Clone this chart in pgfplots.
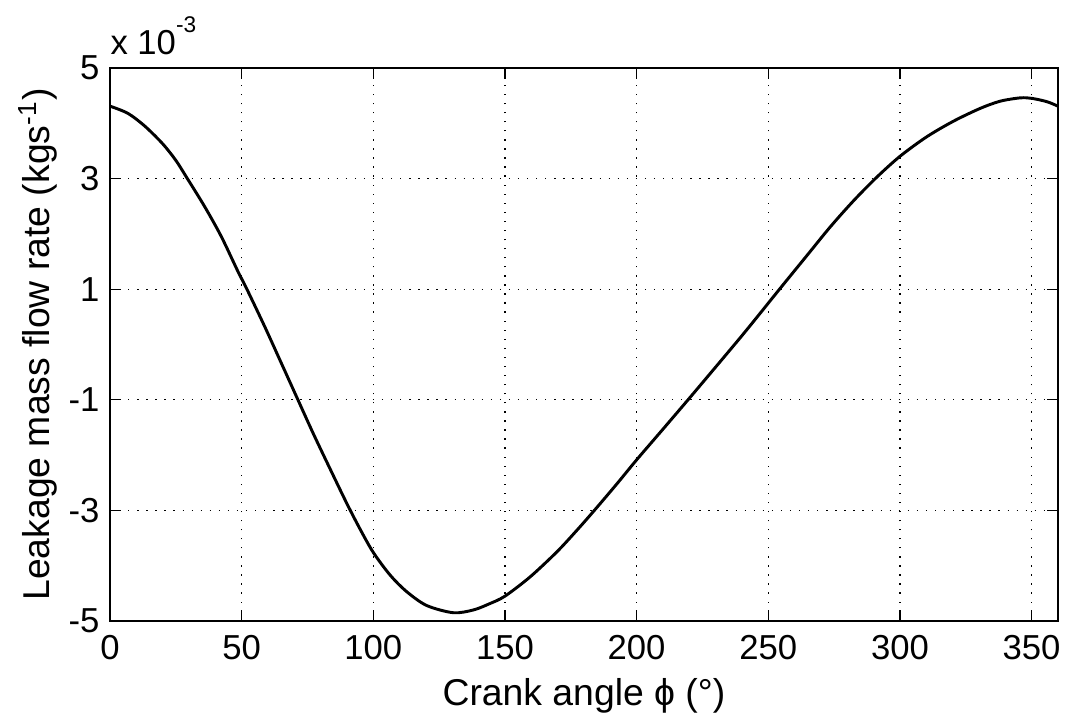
\documentclass[border=0pt]{standalone}
\usepackage{fontspec}
\setmainfont{Liberation Sans}
\usepackage{pgfplots}
\pgfplotsset{compat=1.18}
\begin{document}
\begin{tikzpicture}
\path[use as bounding box] (-41.25pt,-35.6pt) rectangle (358.9pt,232.9pt);
\begin{axis}[
  at={(0,0)}, anchor=south west,
  scale only axis, width=355.5pt, height=207.4pt,
  xmin=0, xmax=360, ymin=-5, ymax=5,
  clip=false,
  xtick={0,50,100,150,200,250,300,350},
  ytick={-5,-3,-1,1,3,5},
  xticklabels={0,50,100,150,200,250,300,350},
  yticklabels={-5,-3,-1,1,3,5},
  tick align=inside,
  major tick length=4pt,
  tick style={black, line width=0.5pt},
  grid=major,
  major grid style={black, line width=0.5pt, dash pattern=on 0.5pt off 2.9pt},
  axis line style={black, line width=0.6pt},
  ticklabel style={font=\fontsize{13}{15}\selectfont, inner sep=0pt},
  xticklabel style={anchor=north, yshift=-5.25pt},
  yticklabel style={anchor=east, xshift=-3.75pt},
  xlabel={Crank angle ϕ (°)},
  ylabel={Leakage mass flow rate (kgs\textsuperscript{-1})},
  label style={font=\fontsize{14}{16}\selectfont, inner sep=0pt},
  xlabel style={at={(axis description cs:0.5,-0.1519)}, anchor=base},
  ylabel style={at={(axis description cs:-0.0633,0.5)}, anchor=base},
]
\addplot[black, line width=1.1pt, smooth, tension=0.5] coordinates {
(0,4.31) (6.8,4.18) (13.2,3.95) (20,3.63) (25,3.33) (29,3.03) (36,2.49)
(42.3,1.95) (48.6,1.32) (51.8,1.02) (58.8,0.32) (65.1,-0.34) (71,-0.96)
(77.2,-1.61) (83.6,-2.25) (89.9,-2.87) (95,-3.34) (100,-3.76) (106.4,-4.17)
(112.7,-4.47) (120.3,-4.72) (130.4,-4.85) (138,-4.80) (144,-4.69) (150,-4.55)
(159.6,-4.20) (169.7,-3.75) (177.3,-3.36) (184.3,-2.98) (192.5,-2.52)
(200.1,-2.08) (210.2,-1.52) (219.7,-0.99) (230.5,-0.38) (240,0.16) (247,0.57)
(254.6,1.02) (264.7,1.61) (273.6,2.13) (282.4,2.60) (291.3,3.03) (300.2,3.41)
(310.3,3.76) (320.4,4.04) (330.5,4.27) (338.1,4.40) (345.7,4.46) (350.2,4.45)
(355.9,4.39) (360,4.31)
};
\node[anchor=base west, inner sep=0pt, font=\fontsize{13}{15}\selectfont]
  at (axis description cs:0,1.0236) {x 10\raisebox{8.5pt}{\fontsize{8.5}{9}\selectfont -3}};
\end{axis}
\end{tikzpicture}
\end{document}
